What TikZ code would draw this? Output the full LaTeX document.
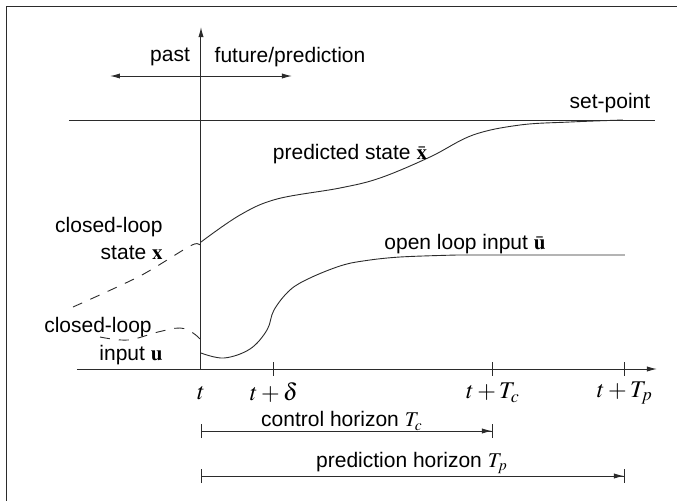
\documentclass[tikz,border=0pt]{standalone}
\usepackage{mathptmx}
\usepackage[no-math]{fontspec}
\setmainfont{Liberation Sans}
\usetikzlibrary{arrows.meta}
\definecolor{ink}{HTML}{2B2B2B}
\tikzset{
  lbl/.style={font=\fontsize{10.5}{12.5}\selectfont, inner sep=0pt, align=center},
  tlbl/.style={font=\fontsize{12}{14}\selectfont, inner sep=0pt},
  ln/.style={draw=ink, line width=0.5pt},
  crv/.style={draw=ink, line width=0.45pt},
  dsh/.style={crv, dash pattern=on 5pt off 4.5pt},
  tip/.style={-{Latex[length=5pt,width=2.6pt]}, ln},
  hor/.style={ln, {Bar[width=7pt]}-{Latex[length=5pt,width=2.6pt]Bar[width=7pt]}}}

\begin{document}
\begin{tikzpicture}[x=0.5pt, y=-0.5pt]
\useasboundingbox (0,0) rectangle (677,500);
\clip (0,0) rectangle (677,500);
\draw[ln] (7,6) rectangle (700,520);
% axes
\coordinate (o) at (201,369);
\coordinate (xend) at (657,369);
\coordinate (ystart) at (201,369);
\coordinate (yend) at (201,27);
\coordinate (xstart) at (77,369);
\draw[tip] (xstart) -- (xend);
\draw[tip] (ystart) -- (yend);
% past / future
\coordinate (pl) at (110,76);
\coordinate (pr) at (292,76);
\draw[ln, {Latex[length=5pt,width=2.6pt]}-{Latex[length=5pt,width=2.6pt]}] (pl) -- (pr);
\node[lbl] (past) at (170,57) {past};
\node[lbl] (fut) at (290,57) {future/prediction};
% set-point
\coordinate (sp0) at (69,120);
\coordinate (sp1) at (655,120);
\draw[crv] (sp0) -- (sp1);
\node[lbl] (spl) at (610,103) {set-point};
% ticks
\foreach \nm/\xx/\txt in {d/274/{$t+\delta$}, c/493/{$t+T_c$}, p/625/{$t+T_p$}}{
  \coordinate (k\nm) at (\xx,369);
  \draw[ln] ([yshift=3.5pt]k\nm) -- ([yshift=-3.5pt]k\nm);
  \node[tlbl] (l\nm) at (\xx,393) {\txt};
}
\node[tlbl] (lt) at (201,393) {$t$};
% predicted state
\draw[crv] plot[smooth, tension=0.6] coordinates {(201,242) (240,215) (277,199) (340,188) (380,178) (430,157) (473,135) (520,125) (570,122) (623,120)};
\node[lbl] (xbar) at (350,154) {predicted state $\bar{\mathbf{x}}$};
% open loop input
\draw[crv] plot[smooth, tension=0.6] coordinates {(201,353) (224,358) (250,349) (267,330) (274,310) (290,290) (310,278) (340,266) (363,261) (400,257) (457,255)} -- (625,255);
\node[lbl] (ubar) at (465,244) {open loop input $\bar{\mathbf{u}}$};
% closed loop
\draw[dsh] plot[smooth, tension=0.5] coordinates {(73,307) (140,276) (192,245) (201,247)};
\node[lbl, align=right, anchor=east] (xcl) at (163,238) {closed-loop\\[1pt]state $\mathbf{x}$};
\draw[dsh] plot[smooth, tension=0.6] coordinates {(100,337) (128,340) (158,332) (180,328) (193,333) (201,340)};
\node[lbl] (ucl1) at (98,327) {closed-loop};
\node[lbl] (ucl2) at (131,355) {input $\mathbf{u}$};
% horizons
\coordinate (hc0) at (201,431);
\coordinate (hc1) at (493,431);
\draw[hor] (hc0) -- (hc1);
\node[lbl] (hcl) at (342,421) {control horizon $T_c$};
\coordinate (hp0) at (201,476);
\coordinate (hp1) at (625,476);
\draw[hor] (hp0) -- (hp1);
\node[lbl] (hpl) at (412,463) {prediction horizon $T_p$};
\end{tikzpicture}
\end{document}
